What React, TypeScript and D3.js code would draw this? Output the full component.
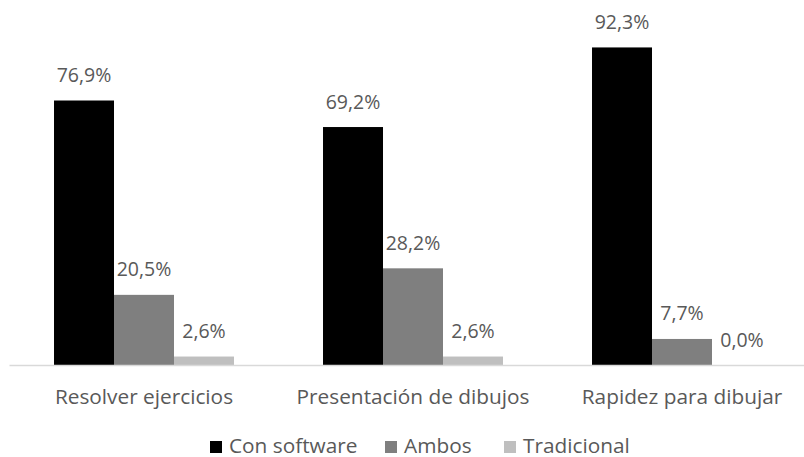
import React from "react";
import * as d3 from "d3";

const categories = ["Resolver ejercicios", "Presentación de dibujos", "Rapidez para dibujar"];
const seriesNames = ["Con software", "Ambos", "Tradicional"];
const conSoftware = [76.9, 69.2, 92.3];
const ambos = [20.5, 28.2, 7.7];
const tradicional = [2.6, 2.6, 0.0];
const seriesColors = ["#000000", "#7f7f7f", "#bfbfbf"];

const W = 804;
const H = 457;
const FONT = "'Open Sans', sans-serif";
const TEXT = "#595959";

export default function App() {
  const values = [conSoftware, ambos, tradicional];

  const x = d3.scaleBand<string>().domain(categories).range([9.5, 816.5]).padding(0);
  const xs = d3
    .scaleBand<string>()
    .domain(seriesNames)
    .range([0, x.bandwidth()])
    .paddingInner(0)
    .paddingOuter(0.742);
  const y = d3.scaleLinear().domain([0, 100]).range([365.5, 20.9]);

  const fmt = (v: number) => v.toFixed(1).replace(".", ",") + "%";

  const legendX = [210, 385, 504];

  return (
    <svg
      width={W}
      height={H}
      style={{ position: "absolute", left: 0, top: 0, background: "#fff" }}
      fontFamily={FONT}
    >
      {categories.map((c, ci) => (
        <g key={c} transform={`translate(${x(c)},0)`}>
          {seriesNames.map((s, si) => {
            const v = values[si][ci];
            const bx = xs(s)!;
            const bw = xs.bandwidth();
            return (
              <g key={s}>
                <rect
                  x={bx}
                  y={y(v)}
                  width={bw}
                  height={y(0) - y(v)}
                  fill={seriesColors[si]}
                />
                <text
                  x={bx + bw / 2}
                  y={y(v) - 18.5}
                  textAnchor="middle"
                  fontSize={19.5}
                  fill={TEXT}
                >
                  {fmt(v)}
                </text>
              </g>
            );
          })}
          <text x={x.bandwidth() / 2} y={404} textAnchor="middle" fontSize={20.8} fill={TEXT}>
            {c}
          </text>
        </g>
      ))}
      <line x1={x.range()[0]} x2={x.range()[1]} y1={y(0)} y2={y(0)} stroke="#d9d9d9" strokeWidth={1.5} />
      {seriesNames.map((s, si) => (
        <g key={s} transform={`translate(${legendX[si]},0)`}>
          <rect x={0} y={441} width={12} height={12} fill={seriesColors[si]} />
          <text x={19} y={452.5} fontSize={20.8} fill={TEXT}>
            {s}
          </text>
        </g>
      ))}
    </svg>
  );
}
